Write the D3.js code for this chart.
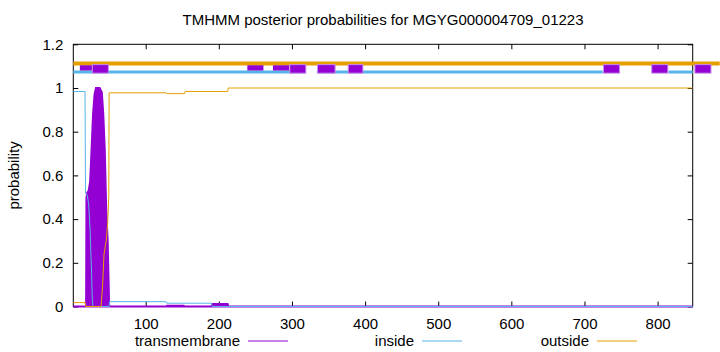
<!DOCTYPE html>
<html>
<head>
<meta charset="utf-8">
<script src="https://cdn.jsdelivr.net/npm/d3@7/dist/d3.min.js"></script>
<style>
  body { margin: 0; background: #fff; }
  text { font-family: "Liberation Sans", Arial, sans-serif; font-size: 15px; fill: #000; }
</style>
</head>
<body>
<div class="chart"></div>
<script>
// 数据
const title = 'TMHMM posterior probabilities for MGYG000004709_01223'
const seqStart = 1
const seqEnd = 848
const xTicks = [100, 200, 300, 400, 500, 600, 700, 800]
const yTicks = [0, 0.2, 0.4, 0.6, 0.8, 1, 1.2]

// posterior curves, [position, probability]
const transmembrane = [
  [1, 0], [18.5, 0], [19, 0.5], [20, 0.52], [22, 0.53], [24, 0.57], [26, 0.72],
  [28, 0.88], [30, 0.97], [32, 1.0], [37, 1.0], [40, 0.98], [42, 0.88],
  [44, 0.72], [46, 0.45], [48, 0.3], [49.5, 0.08], [50, 0], [128, 0],
  [129, 0.003], [152, 0.003], [153, 0], [190, 0], [191, 0.012], [212, 0.012],
  [213, 0], [848, 0]
]
const inside = [
  [1, 0.984], [17, 0.984], [17.7, 0.52], [20, 0.51], [22, 0.47], [24, 0.35],
  [26, 0.15], [27, 0.03], [28, 0], [50, 0], [50.5, 0.022], [128, 0.022],
  [129, 0.015], [190, 0.015], [191, 0], [848, 0]
]
const outside = [
  [1, 0.018], [17, 0.018], [18, 0], [39, 0], [41, 0.09], [43, 0.24], [46, 0.3],
  [48, 0.38], [49.5, 0.5], [50, 0.978], [128, 0.978], [129, 0.974], [153, 0.974],
  [154, 0.984], [212, 0.984], [213, 1.0], [848, 1.0]
]

// predicted topology strip above the curves, [from, to]
const outsideBar = [[1, 885]]
const insideBar = [[1, 319], [334, 725], [815, 848]]
const helixBar = [[27, 49], [297, 319], [335, 359], [377, 397], [726, 748], [792, 814], [851, 873]]
const helixBarThin = [[10, 27], [239, 261], [274, 296]]

const seriesNames = ['transmembrane', 'inside', 'outside']
const colors = ['#9400d3', '#56b4e9', '#e69f00']

// 画布
const margin = {top: 44.3, right: 27.3, bottom: 45.5, left: 73.3}
const width = 720 - margin.left - margin.right
const height = 352 - margin.top - margin.bottom

const root = d3.select('.chart')
  .append('svg')
    .attr('width', 720)
    .attr('height', 352)

const svg = root.append('g')
    .attr('transform', `translate(${margin.left}, ${margin.top})`)

const xScale = d3.scaleLinear().domain([seqStart, seqEnd]).range([0, width])
const yScale = d3.scaleLinear().domain([0, 1.2]).range([height, 0])

// title + y label
root.append('text')
  .attr('x', margin.left + width / 2)
  .attr('y', 25)
  .attr('text-anchor', 'middle')
  .text(title)

root.append('text')
  .attr('transform', `translate(19, ${margin.top + height / 2}) rotate(-90)`)
  .attr('text-anchor', 'middle')
  .text('probability')

// axes, ticks point inward like gnuplot
svg.append('g')
  .attr('transform', `translate(0, ${height})`)
  .call(d3.axisBottom(xScale).tickValues(xTicks).tickSizeInner(-5).tickSizeOuter(0).tickPadding(12))
svg.append('g')
  .call(d3.axisTop(xScale).tickValues(xTicks).tickSizeInner(-5).tickSizeOuter(0).tickFormat(''))
svg.append('g')
  .call(d3.axisLeft(yScale).tickValues(yTicks).tickSizeInner(-5).tickSizeOuter(0).tickPadding(10)
    .tickFormat(d => d3.format('~g')(d)))
svg.append('g')
  .attr('transform', `translate(${width}, 0)`)
  .call(d3.axisRight(yScale).tickValues(yTicks).tickSizeInner(-5).tickSizeOuter(0).tickFormat(''))

svg.selectAll('.domain').remove()
svg.selectAll('.tick line').attr('stroke', '#000')
svg.selectAll('.tick text')
  .style('font-family', '"Liberation Sans", Arial, sans-serif')
  .style('font-size', '15px')

svg.append('rect')
  .attr('width', width)
  .attr('height', height)
  .attr('fill', 'none')
  .attr('stroke', '#000')
  .attr('stroke-width', 1)

// curves
const line = d3.line()
  .x(d => xScale(d[0]))
  .y(d => yScale(d[1]))

const area = d3.area()
  .x(d => xScale(d[0]))
  .y0(yScale(0))
  .y1(d => yScale(d[1]))

svg.append('path')
  .attr('d', area(transmembrane))
  .attr('fill', colors[0])
  .attr('stroke', colors[0])
  .attr('stroke-width', 2)

svg.append('path')
  .attr('d', line(inside))
  .attr('fill', 'none')
  .attr('stroke', colors[1])
  .attr('stroke-width', 1)

svg.append('path')
  .attr('d', line(outside))
  .attr('fill', 'none')
  .attr('stroke', colors[2])
  .attr('stroke-width', 1)

// topology strip
svg.selectAll('.outside-bar')
  .data(outsideBar)
  .enter()
  .append('line')
  .attr('x1', d => xScale(d[0]))
  .attr('x2', d => xScale(d[1]))
  .attr('y1', yScale(1.112))
  .attr('y2', yScale(1.112))
  .attr('stroke', colors[2])
  .attr('stroke-width', 4)

svg.selectAll('.inside-bar')
  .data(insideBar)
  .enter()
  .append('line')
  .attr('x1', d => xScale(d[0]))
  .attr('x2', d => xScale(d[1]))
  .attr('y1', yScale(1.073))
  .attr('y2', yScale(1.073))
  .attr('stroke', colors[1])
  .attr('stroke-width', 3)

svg.selectAll('.helix-thin')
  .data(helixBarThin)
  .enter()
  .append('rect')
  .attr('x', d => xScale(d[0]))
  .attr('width', d => xScale(d[1]) - xScale(d[0]))
  .attr('y', yScale(1.104))
  .attr('height', yScale(1.08) - yScale(1.104))
  .attr('fill', colors[0])

svg.selectAll('.helix')
  .data(helixBar)
  .enter()
  .append('rect')
  .attr('x', d => xScale(d[0]))
  .attr('width', d => xScale(d[1]) - xScale(d[0]))
  .attr('y', yScale(1.107))
  .attr('height', yScale(1.068) - yScale(1.107))
  .attr('fill', colors[0])
  .attr('stroke', '#c890e8')
  .attr('stroke-width', 1)

// legend
const legendRight = [240, 414, 589]
const legend = root.selectAll('.legend')
  .data(seriesNames)
  .enter()
  .append('g')
    .attr('transform', (d, i) => `translate(${legendRight[i]}, 341)`)

legend.append('text')
  .attr('y', 5)
  .attr('text-anchor', 'end')
  .text(d => d)

legend.append('line')
  .attr('x1', 8)
  .attr('x2', 48)
  .attr('stroke', (d, i) => colors[i])
  .attr('stroke-width', 1)
</script>
</body>
</html>
